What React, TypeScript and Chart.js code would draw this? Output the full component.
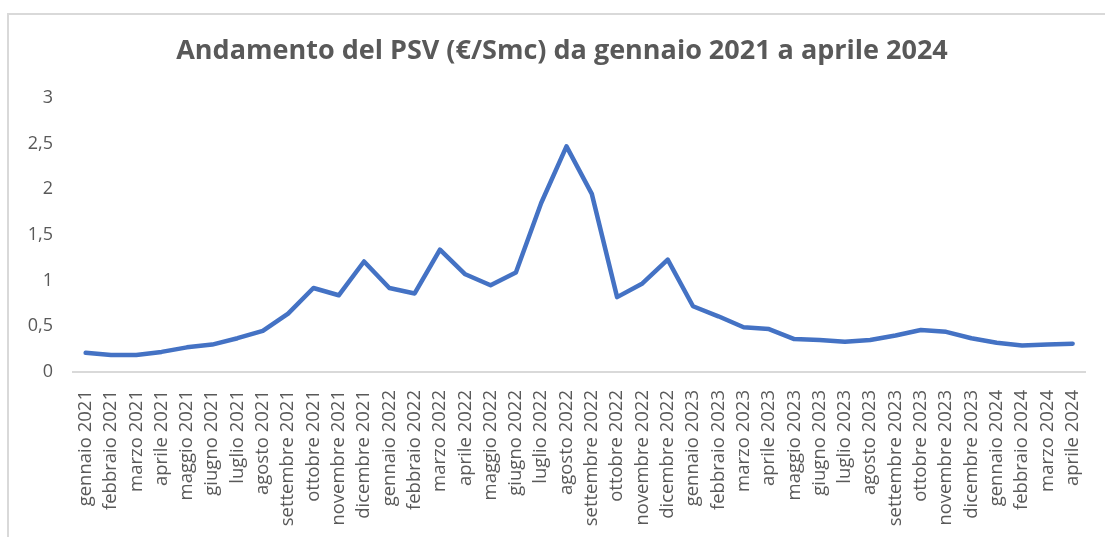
import React, { useEffect, useRef } from "react";
import { Chart, registerables } from "chart.js";

Chart.register(...registerables);

const months = [
  "gennaio", "febbraio", "marzo", "aprile", "maggio", "giugno",
  "luglio", "agosto", "settembre", "ottobre", "novembre", "dicembre",
];

const categories: string[] = [
  ...months.map((m) => m + " 2021"),
  ...months.map((m) => m + " 2022"),
  ...months.map((m) => m + " 2023"),
  ...months.slice(0, 4).map((m) => m + " 2024"),
];

const psv2021 = [0.21, 0.186, 0.186, 0.22, 0.27, 0.3, 0.37, 0.45, 0.64, 0.92, 0.84, 1.21];
const psv2022 = [0.92, 0.86, 1.34, 1.07, 0.95, 1.09, 1.85, 2.47, 1.95, 0.82, 0.97, 1.23];
const psv2023 = [0.72, 0.61, 0.49, 0.47, 0.36, 0.35, 0.33, 0.35, 0.4, 0.46, 0.44, 0.37];
const psv2024 = [0.32, 0.29, 0.3, 0.31];

const psvValues = [...psv2021, ...psv2022, ...psv2023, ...psv2024];

const yTicks = [0, 0.5, 1, 1.5, 2, 2.5, 3];

const TITLE = "Andamento del PSV (€/Smc) da gennaio 2021 a aprile 2024";

const titlePlugin = {
  id: "centeredTitle",
  afterDraw(chart: any) {
    const ctx = chart.ctx;
    ctx.save();
    ctx.font = "bold 27px 'Open Sans', sans-serif";
    ctx.fillStyle = "#595959";
    ctx.textAlign = "center";
    ctx.textBaseline = "middle";
    ctx.fillText(TITLE, 562, 51);
    ctx.restore();
  },
};

export default function App() {
  const canvasRef = useRef<HTMLCanvasElement | null>(null);

  useEffect(() => {
    if (!canvasRef.current) return;
    const chart = new Chart(canvasRef.current, {
      type: "line",
      data: {
        labels: categories,
        datasets: [
          {
            label: "PSV",
            data: psvValues,
            borderColor: "#4472C4",
            backgroundColor: "#4472C4",
            borderWidth: 4.5,
            pointRadius: 0,
            tension: 0,
            borderJoinStyle: "round",
            borderCapStyle: "round",
          },
        ],
      },
      options: {
        animation: false,
        responsive: false,
        maintainAspectRatio: false,
        layout: { padding: { left: 10, right: 13, top: 98, bottom: 0 } },
        plugins: {
          legend: { display: false },
          tooltip: { enabled: false },
          title: { display: false },
        },
        scales: {
          x: {
            type: "category",
            offset: true,
            grid: { display: false },
            border: { display: true, color: "#d9d9d9", width: 2 },
            ticks: {
              autoSkip: false,
              maxRotation: 90,
              minRotation: 90,
              color: "#595959",
              padding: 10,
              font: { family: "'Open Sans', sans-serif", size: 18.5 },
            },
            afterFit: (scale: any) => {
              scale.height = 165;
            },
          },
          y: {
            min: 0,
            max: 3,
            afterBuildTicks: (scale: any) => {
              scale.ticks = yTicks.map((v) => ({ value: v }));
            },
            grid: { display: false },
            border: { display: false },
            ticks: {
              color: "#595959",
              padding: 12,
              font: { family: "'Open Sans', sans-serif", size: 18 },
              callback: (v: any) => String(v).replace(".", ","),
            },
            afterFit: (scale: any) => {
              scale.width = 63;
            },
          },
        },
      },
      plugins: [titlePlugin],
    });
    return () => chart.destroy();
  }, []);

  return (
    <div style={{ position: "fixed", left: 0, top: 0, width: 1105, height: 537, background: "#fff" }}>
      <div
        style={{
          position: "absolute",
          left: 7,
          top: 13,
          right: 0,
          bottom: 0,
          borderTop: "2px solid #d9d9d9",
          borderLeft: "2px solid #d9d9d9",
        }}
      />
      <canvas ref={canvasRef} width={1105} height={537} style={{ position: "absolute", left: 0, top: 0 }} />
    </div>
  );
}
